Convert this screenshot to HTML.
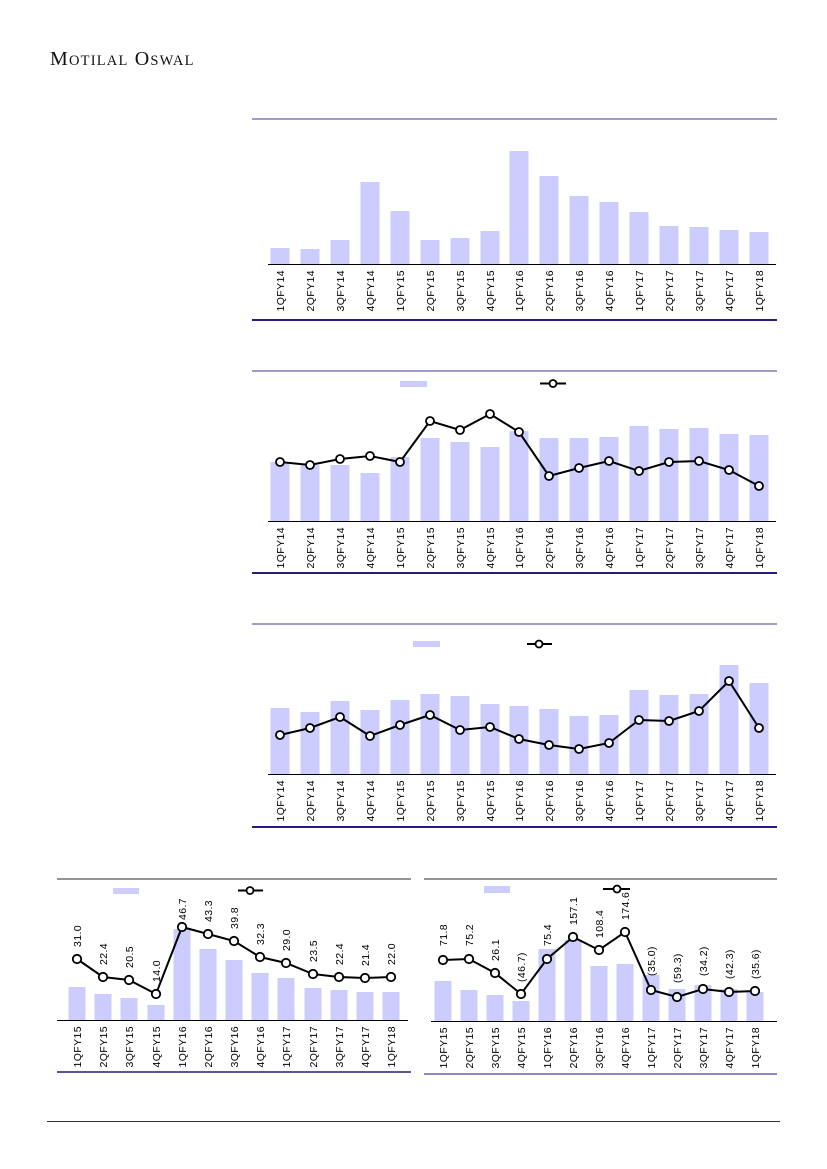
<!DOCTYPE html>
<html><head><meta charset="utf-8"><style>
html,body{margin:0;padding:0;background:#fff}
svg{display:block}
text{font-family:"Liberation Sans",sans-serif;font-size:10.5px;letter-spacing:0.4px;fill:#000}
.b{fill:#ccccff}
.l{fill:none;stroke:#000;stroke-width:2}
.c{fill:#fff;stroke:#000;stroke-width:1.8}
</style></head><body>
<svg width="827" height="1169" viewBox="0 0 827 1169">
<text x="50" y="65" style="font-family:'Liberation Serif',serif;font-size:20px;fill:#111;letter-spacing:1.2px">M<tspan style="font-size:14.5px">OTILAL</tspan> O<tspan style="font-size:14.5px">SWAL</tspan></text>

<!-- Chart 1 -->
<line x1="252" y1="119" x2="777" y2="119" stroke="#6b5fb0" stroke-width="1.3"/>
<line x1="252" y1="320" x2="777" y2="320" stroke="#2a1a80" stroke-width="2"/>
<g class="b">
<rect x="270.5" y="248" width="19" height="16"/><rect x="300.5" y="249" width="19" height="15"/><rect x="330.5" y="240" width="19" height="24"/><rect x="360.5" y="182" width="19" height="82"/><rect x="390.5" y="211" width="19" height="53"/><rect x="420.5" y="240" width="19" height="24"/><rect x="450.5" y="238" width="19" height="26"/><rect x="480.5" y="231" width="19" height="33"/><rect x="509.5" y="151" width="19" height="113"/><rect x="539.5" y="176" width="19" height="88"/><rect x="569.5" y="196" width="19" height="68"/><rect x="599.5" y="202" width="19" height="62"/><rect x="629.5" y="212" width="19" height="52"/><rect x="659.5" y="226" width="19" height="38"/><rect x="689.5" y="227" width="19" height="37"/><rect x="719.5" y="230" width="19" height="34"/><rect x="749.5" y="232" width="19" height="32"/>
</g>
<line x1="268" y1="264.5" x2="776" y2="264.5" stroke="#000" stroke-width="1"/>
<g text-anchor="end">
<text transform="translate(284,270) rotate(-90)">1QFY14</text><text transform="translate(314,270) rotate(-90)">2QFY14</text><text transform="translate(344,270) rotate(-90)">3QFY14</text><text transform="translate(374,270) rotate(-90)">4QFY14</text><text transform="translate(404,270) rotate(-90)">1QFY15</text><text transform="translate(434,270) rotate(-90)">2QFY15</text><text transform="translate(464,270) rotate(-90)">3QFY15</text><text transform="translate(494,270) rotate(-90)">4QFY15</text><text transform="translate(523,270) rotate(-90)">1QFY16</text><text transform="translate(553,270) rotate(-90)">2QFY16</text><text transform="translate(583,270) rotate(-90)">3QFY16</text><text transform="translate(613,270) rotate(-90)">4QFY16</text><text transform="translate(643,270) rotate(-90)">1QFY17</text><text transform="translate(673,270) rotate(-90)">2QFY17</text><text transform="translate(703,270) rotate(-90)">3QFY17</text><text transform="translate(733,270) rotate(-90)">4QFY17</text><text transform="translate(763,270) rotate(-90)">1QFY18</text>
</g>

<!-- Chart 2 -->
<line x1="252" y1="371" x2="777" y2="371" stroke="#6b5fb0" stroke-width="1.3"/>
<line x1="252" y1="573" x2="777" y2="573" stroke="#2a1a80" stroke-width="2"/>
<rect x="400" y="381" width="27" height="6" class="b"/>
<line x1="540" y1="383.5" x2="566" y2="383.5" stroke="#000" stroke-width="2"/><circle cx="553" cy="383.5" r="3.5" class="c"/>
<g class="b">
<rect x="270.5" y="462" width="19" height="59"/><rect x="300.5" y="465" width="19" height="56"/><rect x="330.5" y="465" width="19" height="56"/><rect x="360.5" y="473" width="19" height="48"/><rect x="390.5" y="457" width="19" height="64"/><rect x="420.5" y="438" width="19" height="83"/><rect x="450.5" y="442" width="19" height="79"/><rect x="480.5" y="447" width="19" height="74"/><rect x="509.5" y="431" width="19" height="90"/><rect x="539.5" y="438" width="19" height="83"/><rect x="569.5" y="438" width="19" height="83"/><rect x="599.5" y="437" width="19" height="84"/><rect x="629.5" y="426" width="19" height="95"/><rect x="659.5" y="429" width="19" height="92"/><rect x="689.5" y="428" width="19" height="93"/><rect x="719.5" y="434" width="19" height="87"/><rect x="749.5" y="435" width="19" height="86"/>
</g>
<line x1="268" y1="521.5" x2="776" y2="521.5" stroke="#000" stroke-width="1"/>
<polyline class="l" points="280,462 310,465 340,459 370,456 400,462 430,421 460,430 490,414 519,432 549,476 579,468 609,461 639,471 669,462 699,461 729,470 759,486"/>
<g class="c"><circle cx="280" cy="462" r="4"/><circle cx="310" cy="465" r="4"/><circle cx="340" cy="459" r="4"/><circle cx="370" cy="456" r="4"/><circle cx="400" cy="462" r="4"/><circle cx="430" cy="421" r="4"/><circle cx="460" cy="430" r="4"/><circle cx="490" cy="414" r="4"/><circle cx="519" cy="432" r="4"/><circle cx="549" cy="476" r="4"/><circle cx="579" cy="468" r="4"/><circle cx="609" cy="461" r="4"/><circle cx="639" cy="471" r="4"/><circle cx="669" cy="462" r="4"/><circle cx="699" cy="461" r="4"/><circle cx="729" cy="470" r="4"/><circle cx="759" cy="486" r="4"/></g>
<g text-anchor="end">
<text transform="translate(284,527) rotate(-90)">1QFY14</text><text transform="translate(314,527) rotate(-90)">2QFY14</text><text transform="translate(344,527) rotate(-90)">3QFY14</text><text transform="translate(374,527) rotate(-90)">4QFY14</text><text transform="translate(404,527) rotate(-90)">1QFY15</text><text transform="translate(434,527) rotate(-90)">2QFY15</text><text transform="translate(464,527) rotate(-90)">3QFY15</text><text transform="translate(494,527) rotate(-90)">4QFY15</text><text transform="translate(523,527) rotate(-90)">1QFY16</text><text transform="translate(553,527) rotate(-90)">2QFY16</text><text transform="translate(583,527) rotate(-90)">3QFY16</text><text transform="translate(613,527) rotate(-90)">4QFY16</text><text transform="translate(643,527) rotate(-90)">1QFY17</text><text transform="translate(673,527) rotate(-90)">2QFY17</text><text transform="translate(703,527) rotate(-90)">3QFY17</text><text transform="translate(733,527) rotate(-90)">4QFY17</text><text transform="translate(763,527) rotate(-90)">1QFY18</text>
</g>

<!-- Chart 3 -->
<line x1="252" y1="624" x2="777" y2="624" stroke="#6b5fb0" stroke-width="1.3"/>
<line x1="252" y1="827" x2="777" y2="827" stroke="#2a1a80" stroke-width="2"/>
<rect x="413" y="641" width="27" height="6" class="b"/>
<line x1="527" y1="644" x2="552" y2="644" stroke="#000" stroke-width="2"/><circle cx="539" cy="644" r="3.5" class="c"/>
<g class="b">
<rect x="270.5" y="708" width="19" height="66"/><rect x="300.5" y="712" width="19" height="62"/><rect x="330.5" y="701" width="19" height="73"/><rect x="360.5" y="710" width="19" height="64"/><rect x="390.5" y="700" width="19" height="74"/><rect x="420.5" y="694" width="19" height="80"/><rect x="450.5" y="696" width="19" height="78"/><rect x="480.5" y="704" width="19" height="70"/><rect x="509.5" y="706" width="19" height="68"/><rect x="539.5" y="709" width="19" height="65"/><rect x="569.5" y="716" width="19" height="58"/><rect x="599.5" y="715" width="19" height="59"/><rect x="629.5" y="690" width="19" height="84"/><rect x="659.5" y="695" width="19" height="79"/><rect x="689.5" y="694" width="19" height="80"/><rect x="719.5" y="665" width="19" height="109"/><rect x="749.5" y="683" width="19" height="91"/>
</g>
<line x1="268" y1="774.5" x2="776" y2="774.5" stroke="#000" stroke-width="1"/>
<polyline class="l" points="280,735 310,728 340,717 370,736 400,725 430,715 460,730 490,727 519,739 549,745 579,749 609,743 639,720 669,721 699,711 729,681 759,728"/>
<g class="c"><circle cx="280" cy="735" r="4"/><circle cx="310" cy="728" r="4"/><circle cx="340" cy="717" r="4"/><circle cx="370" cy="736" r="4"/><circle cx="400" cy="725" r="4"/><circle cx="430" cy="715" r="4"/><circle cx="460" cy="730" r="4"/><circle cx="490" cy="727" r="4"/><circle cx="519" cy="739" r="4"/><circle cx="549" cy="745" r="4"/><circle cx="579" cy="749" r="4"/><circle cx="609" cy="743" r="4"/><circle cx="639" cy="720" r="4"/><circle cx="669" cy="721" r="4"/><circle cx="699" cy="711" r="4"/><circle cx="729" cy="681" r="4"/><circle cx="759" cy="728" r="4"/></g>
<g text-anchor="end">
<text transform="translate(284,780) rotate(-90)">1QFY14</text><text transform="translate(314,780) rotate(-90)">2QFY14</text><text transform="translate(344,780) rotate(-90)">3QFY14</text><text transform="translate(374,780) rotate(-90)">4QFY14</text><text transform="translate(404,780) rotate(-90)">1QFY15</text><text transform="translate(434,780) rotate(-90)">2QFY15</text><text transform="translate(464,780) rotate(-90)">3QFY15</text><text transform="translate(494,780) rotate(-90)">4QFY15</text><text transform="translate(523,780) rotate(-90)">1QFY16</text><text transform="translate(553,780) rotate(-90)">2QFY16</text><text transform="translate(583,780) rotate(-90)">3QFY16</text><text transform="translate(613,780) rotate(-90)">4QFY16</text><text transform="translate(643,780) rotate(-90)">1QFY17</text><text transform="translate(673,780) rotate(-90)">2QFY17</text><text transform="translate(703,780) rotate(-90)">3QFY17</text><text transform="translate(733,780) rotate(-90)">4QFY17</text><text transform="translate(763,780) rotate(-90)">1QFY18</text>
</g>

<!-- Bottom left -->
<line x1="57" y1="879" x2="411" y2="879" stroke="#555" stroke-width="1.3"/>
<line x1="57" y1="1072" x2="411" y2="1072" stroke="#2a1a80" stroke-width="1.5"/>
<rect x="113" y="888" width="26" height="6" class="b"/>
<line x1="238" y1="890.5" x2="263" y2="890.5" stroke="#000" stroke-width="2"/><circle cx="250" cy="890.5" r="3.5" class="c"/>
<g class="b">
<rect x="68.5" y="987" width="17" height="33"/><rect x="94.5" y="994" width="17" height="26"/><rect x="120.5" y="998" width="17" height="22"/><rect x="147.5" y="1005" width="17" height="15"/><rect x="173.5" y="929" width="17" height="91"/><rect x="199.5" y="949" width="17" height="71"/><rect x="225.5" y="960" width="17" height="60"/><rect x="251.5" y="973" width="17" height="47"/><rect x="277.5" y="978" width="17" height="42"/><rect x="304.5" y="988" width="17" height="32"/><rect x="330.5" y="990" width="17" height="30"/><rect x="356.5" y="992" width="17" height="28"/><rect x="382.5" y="992" width="17" height="28"/>
</g>
<line x1="57" y1="1020.5" x2="408" y2="1020.5" stroke="#000" stroke-width="1"/>
<polyline class="l" points="77,959 103,977 129,980 156,994 182,927 208,934 234,941 260,957 286,963 313,974 339,977 365,978 391,977"/>
<g class="c"><circle cx="77" cy="959" r="4.2"/><circle cx="103" cy="977" r="4.2"/><circle cx="129" cy="980" r="4.2"/><circle cx="156" cy="994" r="4.2"/><circle cx="182" cy="927" r="4.2"/><circle cx="208" cy="934" r="4.2"/><circle cx="234" cy="941" r="4.2"/><circle cx="260" cy="957" r="4.2"/><circle cx="286" cy="963" r="4.2"/><circle cx="313" cy="974" r="4.2"/><circle cx="339" cy="977" r="4.2"/><circle cx="365" cy="978" r="4.2"/><circle cx="391" cy="977" r="4.2"/></g>
<g>
<text transform="translate(81,947) rotate(-90)">31.0</text><text transform="translate(107,965) rotate(-90)">22.4</text><text transform="translate(133,968) rotate(-90)">20.5</text><text transform="translate(160,982) rotate(-90)">14.0</text><text transform="translate(186,920) rotate(-90)">46.7</text><text transform="translate(212,922) rotate(-90)">43.3</text><text transform="translate(238,929) rotate(-90)">39.8</text><text transform="translate(264,945) rotate(-90)">32.3</text><text transform="translate(290,951) rotate(-90)">29.0</text><text transform="translate(317,962) rotate(-90)">23.5</text><text transform="translate(343,965) rotate(-90)">22.4</text><text transform="translate(369,966) rotate(-90)">21.4</text><text transform="translate(395,965) rotate(-90)">22.0</text>
</g>
<g text-anchor="end">
<text transform="translate(81,1026) rotate(-90)">1QFY15</text><text transform="translate(107,1026) rotate(-90)">2QFY15</text><text transform="translate(133,1026) rotate(-90)">3QFY15</text><text transform="translate(160,1026) rotate(-90)">4QFY15</text><text transform="translate(186,1026) rotate(-90)">1QFY16</text><text transform="translate(212,1026) rotate(-90)">2QFY16</text><text transform="translate(238,1026) rotate(-90)">3QFY16</text><text transform="translate(264,1026) rotate(-90)">4QFY16</text><text transform="translate(290,1026) rotate(-90)">1QFY17</text><text transform="translate(317,1026) rotate(-90)">2QFY17</text><text transform="translate(343,1026) rotate(-90)">3QFY17</text><text transform="translate(369,1026) rotate(-90)">4QFY17</text><text transform="translate(395,1026) rotate(-90)">1QFY18</text>
</g>

<!-- Bottom right -->
<line x1="424" y1="879" x2="777" y2="879" stroke="#555" stroke-width="1.3"/>
<line x1="424" y1="1074" x2="777" y2="1074" stroke="#6b5fb0" stroke-width="1.5"/>
<rect x="484" y="886" width="26" height="7" class="b"/>
<line x1="603" y1="889" x2="630" y2="889" stroke="#000" stroke-width="2"/><circle cx="617" cy="889" r="3.5" class="c"/>
<g class="b">
<rect x="434.5" y="981" width="17" height="40"/><rect x="460.5" y="990" width="17" height="31"/><rect x="486.5" y="995" width="17" height="26"/><rect x="512.5" y="1001" width="17" height="20"/><rect x="538.5" y="949" width="17" height="72"/><rect x="564.5" y="940" width="17" height="81"/><rect x="590.5" y="966" width="17" height="55"/><rect x="616.5" y="964" width="17" height="57"/><rect x="642.5" y="975" width="17" height="46"/><rect x="668.5" y="989" width="17" height="32"/><rect x="694.5" y="985" width="17" height="36"/><rect x="720.5" y="989" width="17" height="32"/><rect x="746.5" y="992" width="17" height="29"/>
</g>
<line x1="431" y1="1021.5" x2="777" y2="1021.5" stroke="#000" stroke-width="1"/>
<polyline class="l" points="443,960 469,959 495,973 521,994 547,959 573,937 599,950 625,932 651,990 677,997 703,989 729,992 755,991"/>
<g class="c"><circle cx="443" cy="960" r="4.2"/><circle cx="469" cy="959" r="4.2"/><circle cx="495" cy="973" r="4.2"/><circle cx="521" cy="994" r="4.2"/><circle cx="547" cy="959" r="4.2"/><circle cx="573" cy="937" r="4.2"/><circle cx="599" cy="950" r="4.2"/><circle cx="625" cy="932" r="4.2"/><circle cx="651" cy="990" r="4.2"/><circle cx="677" cy="997" r="4.2"/><circle cx="703" cy="989" r="4.2"/><circle cx="729" cy="992" r="4.2"/><circle cx="755" cy="991" r="4.2"/></g>
<g>
<text transform="translate(447,946) rotate(-90)">71.8</text><text transform="translate(473,946) rotate(-90)">75.2</text><text transform="translate(499,961) rotate(-90)">26.1</text><text transform="translate(525,982) rotate(-90)">(46.7)</text><text transform="translate(551,946) rotate(-90)">75.4</text><text transform="translate(577,925) rotate(-90)">157.1</text><text transform="translate(603,938) rotate(-90)">108.4</text><text transform="translate(629,920) rotate(-90)">174.6</text><text transform="translate(655,976) rotate(-90)">(35.0)</text><text transform="translate(681,983) rotate(-90)">(59.3)</text><text transform="translate(707,976) rotate(-90)">(34.2)</text><text transform="translate(733,979) rotate(-90)">(42.3)</text><text transform="translate(759,979) rotate(-90)">(35.6)</text>
</g>
<g text-anchor="end">
<text transform="translate(447,1027) rotate(-90)">1QFY15</text><text transform="translate(473,1027) rotate(-90)">2QFY15</text><text transform="translate(499,1027) rotate(-90)">3QFY15</text><text transform="translate(525,1027) rotate(-90)">4QFY15</text><text transform="translate(551,1027) rotate(-90)">1QFY16</text><text transform="translate(577,1027) rotate(-90)">2QFY16</text><text transform="translate(603,1027) rotate(-90)">3QFY16</text><text transform="translate(629,1027) rotate(-90)">4QFY16</text><text transform="translate(655,1027) rotate(-90)">1QFY17</text><text transform="translate(681,1027) rotate(-90)">2QFY17</text><text transform="translate(707,1027) rotate(-90)">3QFY17</text><text transform="translate(733,1027) rotate(-90)">4QFY17</text><text transform="translate(759,1027) rotate(-90)">1QFY18</text>
</g>

<line x1="47" y1="1121.5" x2="780" y2="1121.5" stroke="#333" stroke-width="1"/>
</svg>
</body></html>
